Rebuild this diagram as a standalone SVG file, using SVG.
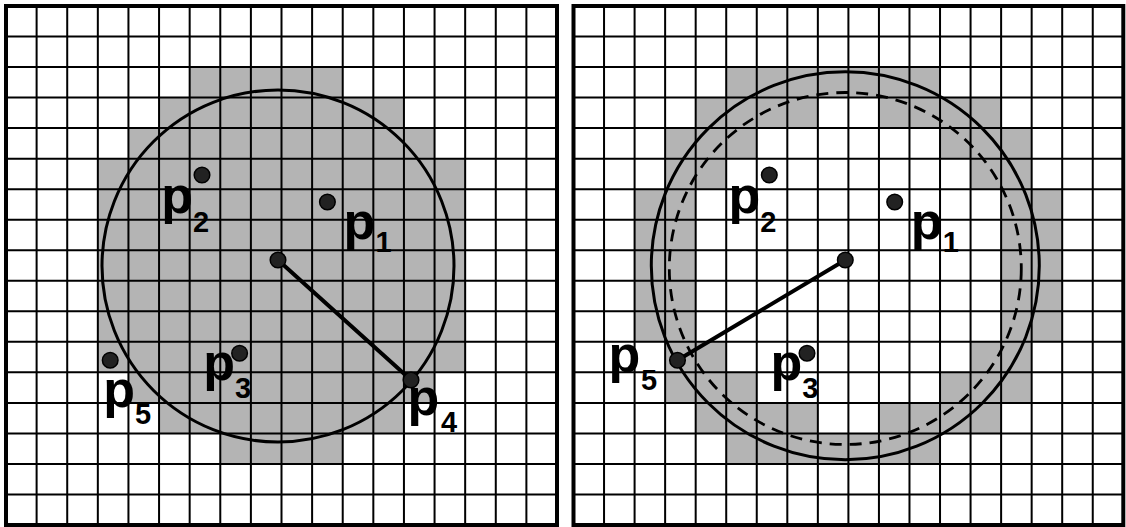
<svg xmlns="http://www.w3.org/2000/svg" width="1126" height="527" viewBox="0 0 1126 527">
<defs>
<style>
.cell{fill:#b4b4b4;stroke:none}
.grid{fill:none;stroke:#000;stroke-width:2}
.border{fill:none;stroke:#000;stroke-width:4}
.circ{fill:none;stroke:#000;stroke-width:3}
.dash{fill:none;stroke:#000;stroke-width:2.8;stroke-dasharray:12 8}
.radius{stroke:#000;stroke-width:4;stroke-linecap:round}
.dot{fill:#222;stroke:#000;stroke-width:1.5}
.lbl{font-family:"Liberation Sans",Arial,sans-serif;font-weight:bold;fill:#000}
.p{font-size:52px}
.s{font-size:29px}
</style>
</defs>
<rect x="0" y="0" width="1126" height="527" fill="#fff"/>

<g id="left-panel">
<g id="left-cells">
<rect class="cell" x="189.67" y="67.06" width="153.06" height="30.53"/>
<rect class="cell" x="159.06" y="97.59" width="244.89" height="30.53"/>
<rect class="cell" x="128.44" y="128.12" width="306.11" height="30.53"/>
<rect class="cell" x="97.83" y="158.65" width="367.33" height="213.7"/>
<rect class="cell" x="128.44" y="372.35" width="306.11" height="30.53"/>
<rect class="cell" x="159.06" y="402.88" width="244.89" height="30.53"/>
<rect class="cell" x="220.28" y="433.41" width="122.44" height="30.53"/>
</g>
<path class="grid" d="M36.61 6V525M67.22 6V525M97.83 6V525M128.44 6V525M159.06 6V525M189.67 6V525M220.28 6V525M250.89 6V525M281.5 6V525M312.11 6V525M342.72 6V525M373.33 6V525M403.94 6V525M434.56 6V525M465.17 6V525M495.78 6V525M526.39 6V525
M6 36.53H557M6 67.06H557M6 97.59H557M6 128.12H557M6 158.65H557M6 189.18H557M6 219.71H557M6 250.24H557M6 280.76H557M6 311.29H557M6 341.82H557M6 372.35H557M6 402.88H557M6 433.41H557M6 463.94H557M6 494.47H557"/>
<rect class="border" x="6" y="6" width="551" height="519"/>
<circle id="left-circle" class="circ" cx="278" cy="266" r="176"/>
</g>

<g id="right-panel">
<g id="right-cells">
<rect class="cell" x="726.22" y="67.06" width="213.81" height="30.53"/>
<rect class="cell" x="695.68" y="97.59" width="122.17" height="30.53"/>
<rect class="cell" x="878.94" y="97.59" width="122.18" height="30.53"/>
<rect class="cell" x="665.13" y="128.12" width="91.63" height="30.53"/>
<rect class="cell" x="940.03" y="128.12" width="91.63" height="30.53"/>
<rect class="cell" x="665.13" y="158.65" width="61.09" height="30.53"/>
<rect class="cell" x="970.57" y="158.65" width="61.09" height="30.53"/>
<rect class="cell" x="634.59" y="189.18" width="61.09" height="152.64"/>
<rect class="cell" x="1001.12" y="189.18" width="61.08" height="152.64"/>
<rect class="cell" x="665.13" y="341.82" width="61.09" height="30.53"/>
<rect class="cell" x="970.57" y="341.82" width="61.09" height="30.53"/>
<rect class="cell" x="665.13" y="372.35" width="91.63" height="30.53"/>
<rect class="cell" x="940.03" y="372.35" width="91.63" height="30.53"/>
<rect class="cell" x="695.68" y="402.88" width="122.17" height="30.53"/>
<rect class="cell" x="878.94" y="402.88" width="122.18" height="30.53"/>
<rect class="cell" x="726.22" y="433.41" width="213.81" height="30.53"/>
</g>
<path class="grid" d="M604.04 6V525M634.59 6V525M665.13 6V525M695.68 6V525M726.22 6V525M756.76 6V525M787.31 6V525M817.85 6V525M848.4 6V525M878.94 6V525M909.48 6V525M940.03 6V525M970.57 6V525M1001.12 6V525M1031.66 6V525M1062.2 6V525M1092.75 6V525
M573.5 36.53H1123.3M573.5 67.06H1123.3M573.5 97.59H1123.3M573.5 128.12H1123.3M573.5 158.65H1123.3M573.5 189.18H1123.3M573.5 219.71H1123.3M573.5 250.24H1123.3M573.5 280.76H1123.3M573.5 311.29H1123.3M573.5 341.82H1123.3M573.5 372.35H1123.3M573.5 402.88H1123.3M573.5 433.41H1123.3M573.5 463.94H1123.3M573.5 494.47H1123.3"/>
<rect class="border" x="573.5" y="6" width="549.8" height="519"/>
<circle id="right-circle-old" class="dash" cx="845.3" cy="268.5" r="176"/>
<circle id="right-circle-new" class="circ" cx="845.3" cy="265.8" r="194"/>
</g>

<g id="connectors">
<line id="left-radius" class="radius" x1="278" y1="260" x2="411" y2="380"/>
<line id="right-radius" class="radius" x1="845.3" y1="260" x2="677.5" y2="360.3"/>
</g>

<g id="left-nodes">
<g id="L-center"><circle class="dot" cx="278" cy="260" r="7.8"/></g>
<g id="L-p1"><circle class="dot" cx="327.4" cy="202" r="7.8"/><text class="lbl p" x="343.5" y="238.5">p</text><text class="lbl s" x="375.5" y="251.6">1</text></g>
<g id="L-p2"><circle class="dot" cx="202" cy="175" r="7.8"/><text class="lbl p" x="161.3" y="212.5">p</text><text class="lbl s" x="193" y="231.5">2</text></g>
<g id="L-p3"><circle class="dot" cx="239.6" cy="353.3" r="7.8"/><text class="lbl p" x="203.2" y="379.6">p</text><text class="lbl s" x="235" y="397.7">3</text></g>
<g id="L-p4"><circle class="dot" cx="411" cy="380" r="7.8"/><text class="lbl p" x="407.6" y="415">p</text><text class="lbl s" x="441" y="432">4</text></g>
<g id="L-p5"><circle class="dot" cx="110.2" cy="360.3" r="7.8"/><text class="lbl p" x="103.3" y="406.5">p</text><text class="lbl s" x="135" y="424.4">5</text></g>
</g>

<g id="right-nodes">
<g id="R-center"><circle class="dot" cx="845.3" cy="260" r="7.8"/></g>
<g id="R-p1"><circle class="dot" cx="894.7" cy="202" r="7.8"/><text class="lbl p" x="910.8" y="238.5">p</text><text class="lbl s" x="942.8" y="251.6">1</text></g>
<g id="R-p2"><circle class="dot" cx="769.3" cy="175" r="7.8"/><text class="lbl p" x="728.6" y="212.5">p</text><text class="lbl s" x="760.3" y="231.5">2</text></g>
<g id="R-p3"><circle class="dot" cx="807" cy="353.3" r="7.8"/><text class="lbl p" x="770.5" y="379.6">p</text><text class="lbl s" x="802.3" y="397.7">3</text></g>
<g id="R-p5"><circle class="dot" cx="677.5" cy="360.3" r="7.8"/><text class="lbl p" x="608.5" y="372">p</text><text class="lbl s" x="641" y="389.5">5</text></g>
</g>
</svg>
